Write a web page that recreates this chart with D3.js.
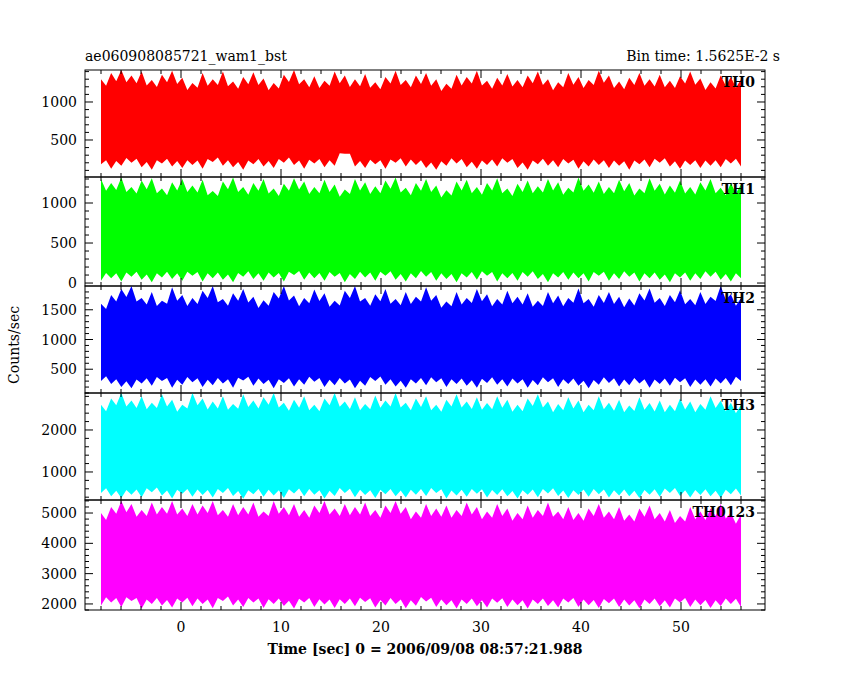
<!DOCTYPE html><html><head><meta charset="utf-8"><script src="https://cdn.jsdelivr.net/npm/d3@7"></script>
<style>body{margin:0;background:#fff}text{font-family:"DejaVu Serif",serif;font-size:14px;fill:#000}</style></head><body>
<svg id="c" width="850" height="680"></svg>
<script>
const tStart=-8, tEnd=56;
const names=["TH0","TH1","TH2","TH3","TH0123"];
const colors=["#ff0000","#00ff00","#0000ff","#00ffff","#ff00ff"];
const th0Hi=[1300,1380,1420,1350,1400,1290,1360,1410,1320,1250,1380,1300,1400,1270,1330,1390,1310,1250,1360,1420,1300,1340,1280,1400,1350,1300,1370,1260,1330,1410,1290,1350,1380,1300,1240,1360,1330,1410,1280,1320,1370,1290,1350,1400,1300,1260,1380,1330,1290,1410,1350,1270,1320,1380,1300,1360,1280,1340,1400,1310,1260,1350,1330,1300];
const th0Lo=[180,120,160,200,140,110,190,150,130,170,120,210,160,140,110,180,150,130,200,170,120,190,140,160,320,150,130,180,120,200,150,170,130,110,160,190,140,120,170,150,200,130,110,180,160,140,190,120,150,170,130,160,110,180,140,200,150,120,170,130,160,140,190,150];
const th1Hi=[1300,1250,1320,1200,1280,1310,1180,1260,1300,1220,1290,1150,1270,1320,1200,1250,1300,1180,1240,1310,1270,1200,1290,1230,1170,1300,1260,1210,1280,1320,1190,1250,1300,1220,1160,1270,1290,1200,1250,1310,1180,1240,1280,1210,1300,1260,1190,1320,1230,1270,1200,1290,1250,1180,1310,1240,1220,1280,1200,1260,1300,1190,1250,1230];
const th1Lo=[30,60,20,80,40,10,70,50,30,90,20,60,40,10,80,50,30,70,20,100,40,60,30,80,10,50,70,30,90,40,20,60,80,30,50,10,70,40,90,20,60,30,80,50,10,70,40,60,20,90,30,50,80,20,60,40,10,70,30,50,80,40,20,60];
const th2Hi=[1600,1750,1850,1900,1700,1800,1650,1880,1750,1700,1820,1900,1680,1780,1850,1720,1660,1800,1900,1740,1700,1840,1780,1650,1820,1900,1700,1760,1850,1680,1800,1720,1880,1750,1640,1800,1700,1850,1760,1680,1820,1720,1780,1650,1800,1740,1700,1860,1680,1750,1800,1720,1690,1780,1860,1700,1750,1830,1680,1800,1720,1900,1760,1700];
const th2Lo=[300,250,200,180,260,220,300,190,240,280,200,230,260,190,310,220,250,180,270,210,240,290,200,230,260,180,220,300,240,210,190,260,230,280,200,250,220,190,270,240,210,260,190,230,280,200,250,220,180,240,270,210,230,260,190,250,220,280,200,240,210,260,230,300];
const th3Hi=[2600,2750,2880,2700,2800,2650,2850,2720,2600,2880,2750,2680,2800,2620,2850,2700,2780,2880,2650,2720,2800,2600,2750,2880,2680,2780,2620,2820,2700,2880,2650,2750,2800,2600,2720,2850,2680,2780,2640,2800,2720,2600,2750,2850,2680,2620,2780,2700,2600,2800,2650,2720,2580,2780,2640,2700,2600,2750,2680,2620,2800,2700,2650,2600];
const th3Lo=[500,420,380,460,400,520,440,370,480,410,450,390,500,430,360,470,410,440,380,490,420,460,370,430,500,400,450,380,470,420,390,460,430,500,370,440,410,480,390,450,420,370,460,400,490,430,380,450,410,470,390,440,420,380,460,410,500,430,390,450,420,380,470,440];
const th0123Hi=[5000,5200,5400,5300,5100,5350,5200,5400,5150,5300,5250,5400,5100,5300,5200,5350,5050,5400,5200,5300,5100,5250,5400,5150,5300,5200,5350,5100,5250,5400,5200,5050,5300,5150,5250,5100,5350,5200,5050,5300,5150,5000,5250,5100,5350,5050,5200,5000,5150,5300,5050,5200,4950,5150,5250,5000,5100,4900,5200,5050,5150,5300,5000,4950];
const th0123Lo=[1950,2050,1900,2100,1850,2000,1950,1880,2050,1920,2000,1860,2100,1950,1900,2050,1870,2000,1930,1850,2050,1900,1980,1870,2000,1920,2060,1880,1950,2000,1860,1940,2080,1900,1960,1850,2000,1920,1880,2040,1900,1960,1850,2000,1930,1880,2050,1900,1960,1870,2020,1900,1950,1860,2000,1920,1880,2050,1900,1960,1870,1930,2000,1900];
const highs=[th0Hi,th1Hi,th2Hi,th3Hi,th0123Hi], lows=[th0Lo,th1Lo,th2Lo,th3Lo,th0123Lo];
const yDomains=[[13,1421],[-37,1325],[100,1900],[333,2880],[1800,5430]];
const yTicks=[[500,1000],[0,500,1000],[500,1000,1500],[1000,2000],[2000,3000,4000,5000]];
const yMinor=[100,100,100,200,200];
const panelTops=[70,177,286,393,500,610];
const L=85,R=765;
const svg=d3.select("#c");
const x=d3.scaleLinear().domain([-9.6,58.4]).range([L,R]);
for(let p=0;p<5;p++){
  const y=d3.scaleLinear().domain(yDomains[p]).range([panelTops[p+1],panelTops[p]]);
  const n=highs[p].length, step=(tEnd-tStart)/(n-1), span=yDomains[p][1]-yDomains[p][0];
  const g=svg.append("g");
  const pts=[];
  highs[p].forEach((h,i)=>{const t=tStart+i*step;pts.push({t:t,h:h,l:lows[p][i]});
    if(i<n-1)pts.push({t:t+step/2,h:(h+highs[p][i+1])/2-0.09*span,l:(lows[p][i]+lows[p][i+1])/2+0.06*span});});
  g.append("path").datum(pts).attr("fill",colors[p]).attr("d",d3.area().x(d=>x(d.t)).y0(d=>y(d.l)).y1(d=>y(d.h)));
  const yt=panelTops[p],yb=panelTops[p+1];
  g.append("rect").attr("x",L).attr("y",yt).attr("width",R-L).attr("height",yb-yt).attr("fill","none").attr("stroke","#000");
  d3.range(Math.ceil(yDomains[p][0]/yMinor[p])*yMinor[p],yDomains[p][1],yMinor[p]).forEach(v=>{
    const major=yTicks[p].includes(v)||(p<3&&v%500===0)||v%1000===0; const len=major?8:4;
    g.append("line").attr("x1",L).attr("x2",L+len).attr("y1",y(v)).attr("y2",y(v)).attr("stroke","#000");
    g.append("line").attr("x1",R).attr("x2",R-len).attr("y1",y(v)).attr("y2",y(v)).attr("stroke","#000");});
  yTicks[p].forEach(v=>g.append("text").attr("x",L-8).attr("y",y(v)+5).attr("text-anchor","end").text(v));
  d3.range(-8,58,2).forEach(v=>{const len=v%10===0?8:4;
    g.append("line").attr("x1",x(v)).attr("x2",x(v)).attr("y1",yb).attr("y2",yb-len).attr("stroke","#000");
    g.append("line").attr("x1",x(v)).attr("x2",x(v)).attr("y1",yt).attr("y2",yt+len).attr("stroke","#000");});
  g.append("text").attr("x",R-10).attr("y",yt+17).attr("text-anchor","end").attr("font-weight","bold").text(names[p]);
}
[0,10,20,30,40,50].forEach(v=>svg.append("text").attr("x",x(v)).attr("y",632).attr("text-anchor","middle").text(v));
svg.append("text").attr("x",425).attr("y",654).attr("text-anchor","middle").attr("font-weight","bold").text("Time [sec] 0 = 2006/09/08 08:57:21.988");
svg.append("text").attr("transform","translate(19,345) rotate(-90)").attr("text-anchor","middle").text("Counts/sec");
svg.append("text").attr("x",L).attr("y",61).text("ae060908085721_wam1_bst");
svg.append("text").attr("x",780).attr("y",61).attr("text-anchor","end").text("Bin time: 1.5625E-2 s");
</script></body></html>
